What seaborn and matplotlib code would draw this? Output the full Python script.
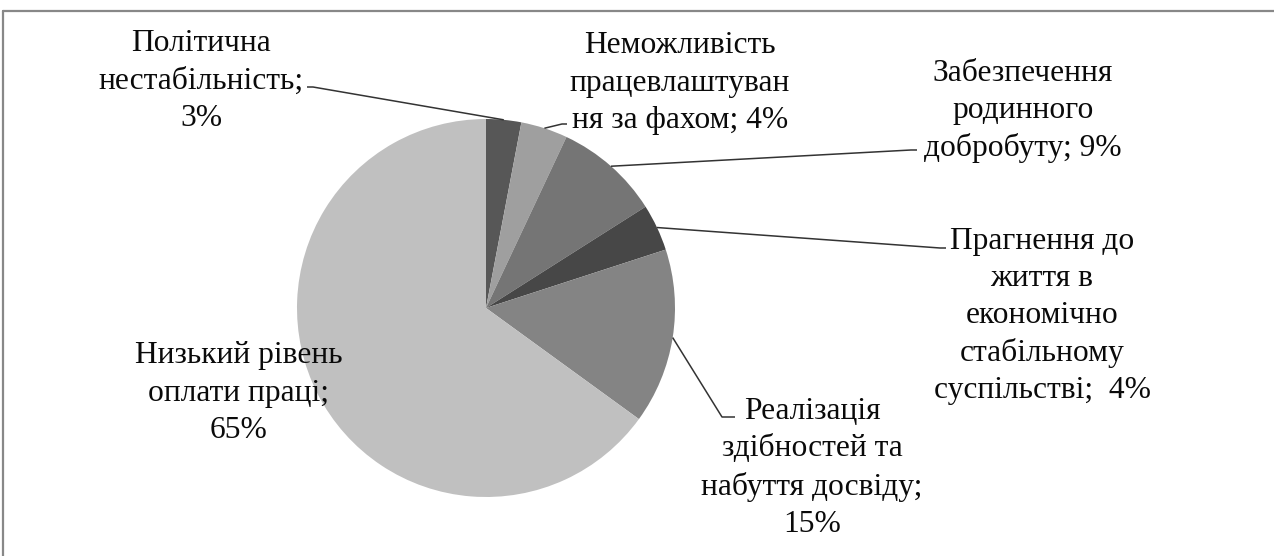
import numpy as np
import matplotlib
matplotlib.use("Agg")
import matplotlib.pyplot as plt
import seaborn as sns

# Reasons for labour migration (share of respondents, %)
categories = [
    "Політична\nнестабільність;",
    "Неможливість\nпрацевлаштуван\nня за фахом;",
    "Забезпечення\nродинного\nдобробуту;",
    "Прагнення до\nжиття в\nекономічно\nстабільному\nсуспільстві;",
    "Реалізація\nздібностей та\nнабуття досвіду;",
    "Низький рівень\nоплати праці;",
]
shares = [3, 4, 9, 4, 15, 65]
separators = ["\n", " ", " ", "  ", "\n", "\n"]
colors = ["#575757", "#9f9f9f", "#757575", "#474747", "#848484", "#c0c0c0"]

sns.set_theme(style="white")
plt.rcParams["font.family"] = ["Liberation Serif", "DejaVu Serif"]

W, H = 1274, 556
fig = plt.figure(figsize=(W / 100, H / 100), dpi=100)
ax = fig.add_axes([0, 0, 1, 1])

cx, cy, r = 486, H - 308, 189
wedges, _ = ax.pie(shares, colors=colors, startangle=90, counterclock=False,
                   center=(cx, cy), radius=r, frame=True,
                   wedgeprops=dict(linewidth=0))
ax.set_xlim(0, W)
ax.set_ylim(0, H)
ax.set_aspect("equal")
ax.axis("off")

# label block centres and leader-line routes (pixel layout, y measured from top)
label_pos = [(201, 81), (680, 83), (1023, 111), (1042, 316), (812, 468), (239, 393)]
leader_route = [
    [(313, 87), (307, 87)],
    [(562, 124), (567, 124)],
    [(911, 150), (917, 150)],
    [(940, 248), (946, 248)],
    [(722, 417), (735, 417)],
    None,
]

for w, cat, val, sep, (lx, ly), route in zip(wedges, categories, shares,
                                              separators, label_pos, leader_route):
    ax.text(lx, H - ly, f"{cat}{sep}{val}%", ha="center", va="center",
            multialignment="center", fontsize=22.7, color="#0a0a0a",
            linespacing=1.37)
    if route is None:
        continue
    mid = np.deg2rad((w.theta1 + w.theta2) / 2)
    xs = [cx + r * np.cos(mid)] + [p[0] for p in route]
    ys = [cy + r * np.sin(mid)] + [H - p[1] for p in route]
    ax.plot(xs, ys, color="#333333", lw=1.1, solid_capstyle="butt")

# chart-area border (top and left edges)
ax.plot([3, W + 5], [H - 11, H - 11], color="#888888", lw=1.6, clip_on=False)
ax.plot([3, 3], [H - 11, -5], color="#888888", lw=1.6, clip_on=False)

fig.savefig("out.png", dpi=100, facecolor="white")
